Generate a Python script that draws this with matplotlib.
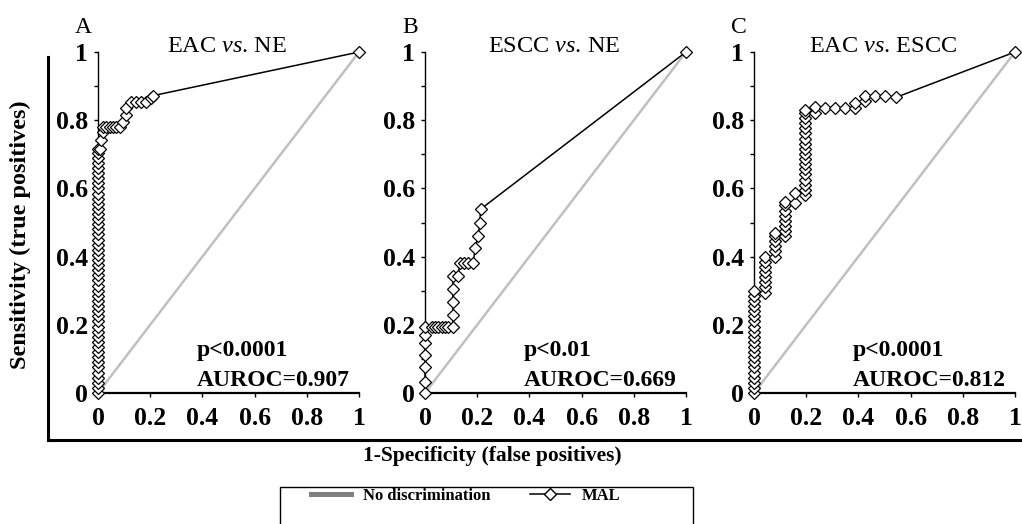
import matplotlib
matplotlib.use("Agg")
import matplotlib.pyplot as plt
from matplotlib.lines import Line2D
from matplotlib.patches import Rectangle

plt.rcParams['font.family'] = ['Liberation Serif', 'DejaVu Serif']
plt.rcParams['mathtext.fontset'] = 'custom'
plt.rcParams['mathtext.rm'] = 'Liberation Serif'
plt.rcParams['mathtext.it'] = 'Liberation Serif:italic'

# ROC points (x = 1-specificity, y = sensitivity)
a_x = [0.0] * 49 + [0.006, 0.013, 0.019, 0.019, 0.032, 0.045, 0.057, 0.070, 0.083,
                    0.096, 0.109, 0.109, 0.128, 0.147, 0.166, 0.185, 0.204, 0.211, 1.0]
a_y = [0.000, 0.015, 0.030, 0.045, 0.060, 0.075, 0.090, 0.105, 0.120, 0.135,
       0.150, 0.165, 0.180, 0.195, 0.210, 0.225, 0.240, 0.255, 0.270, 0.285,
       0.300, 0.315, 0.330, 0.345, 0.360, 0.375, 0.390, 0.405, 0.420, 0.435,
       0.450, 0.465, 0.480, 0.495, 0.510, 0.525, 0.540, 0.555, 0.570, 0.585,
       0.600, 0.615, 0.630, 0.645, 0.660, 0.675, 0.690, 0.705, 0.715] + \
      [0.717, 0.742, 0.766, 0.780, 0.780, 0.780, 0.780, 0.780, 0.780,
       0.796, 0.815, 0.835, 0.854, 0.854, 0.854, 0.854, 0.866, 0.872, 1.0]

b_x = [0.0, 0.0, 0.0, 0.0, 0.0, 0.0, 0.0,
       0.025, 0.038, 0.050, 0.064, 0.077, 0.088, 0.107,
       0.107, 0.107, 0.107, 0.107, 0.126,
       0.134, 0.150, 0.166, 0.185, 0.192, 0.204, 0.210, 0.213, 1.0]
b_y = [0.000, 0.033, 0.077, 0.110, 0.147, 0.170, 0.195,
       0.195, 0.195, 0.195, 0.195, 0.195, 0.195, 0.195,
       0.229, 0.268, 0.304, 0.343, 0.343,
       0.381, 0.381, 0.381, 0.381, 0.425, 0.460, 0.498, 0.539, 1.0]

c_x = [0.0] * 21 + [0.042] * 8 + [0.080] * 6 + [0.119] * 8 + [0.157] * 2 + [0.195] * 18 + \
      [0.234, 0.234, 0.272, 0.310, 0.349, 0.387, 0.387, 0.425, 0.425, 0.464, 0.502, 0.544, 1.0]
c_y = [0.000, 0.015, 0.030, 0.045, 0.060, 0.075, 0.090, 0.105, 0.120, 0.135,
       0.150, 0.165, 0.180, 0.195, 0.210, 0.225, 0.240, 0.255, 0.270, 0.285, 0.300] + \
      [0.292, 0.310, 0.325, 0.340, 0.355, 0.370, 0.385, 0.400] + \
      [0.400, 0.415, 0.430, 0.445, 0.460, 0.470] + \
      [0.460, 0.475, 0.490, 0.505, 0.520, 0.535, 0.550, 0.560] + \
      [0.556, 0.586] + \
      [0.581, 0.596, 0.611, 0.626, 0.641, 0.656, 0.671, 0.686, 0.701, 0.716,
       0.731, 0.746, 0.761, 0.776, 0.791, 0.806, 0.821, 0.830] + \
      [0.820, 0.840, 0.835, 0.835, 0.835, 0.835, 0.850, 0.855, 0.870, 0.870, 0.870, 0.867, 1.0]

tick_vals = [0, 0.2, 0.4, 0.6, 0.8, 1]
tick_labels = ['0', '0.2', '0.4', '0.6', '0.8', '1']

panels = [
    ("A", "EAC $\\it{vs}$. NE", "p<0.0001", "AUROC=0.907", a_x, a_y, 98),
    ("B", "ESCC $\\it{vs}$. NE", "p<0.01", "AUROC=0.669", b_x, b_y, 425),
    ("C", "EAC $\\it{vs}$. ESCC", "p<0.0001", "AUROC=0.812", c_x, c_y, 754),
]

W, H = 1022, 524
fig = plt.figure(figsize=(W / 100, H / 100), dpi=100)

for letter, title, ptext, auroc, xs, ys, left in panels:
    ax = fig.add_axes([left / W, 1 - 393 / H, 261 / W, 341 / H])
    ax.plot([0, 1], [0, 1], color='#c0c0c0', lw=1.8, zorder=1)
    ax.plot(xs, ys, color='black', lw=1.1, marker='D', ms=6, mfc='white',
            mec='black', mew=0.9, clip_on=False, zorder=3)
    ax.set_xlim(0, 1)
    ax.set_ylim(0, 1)
    ax.spines['top'].set_visible(False)
    ax.spines['right'].set_visible(False)
    ax.spines['left'].set_linewidth(1.0)
    ax.spines['bottom'].set_linewidth(1.6)
    ax.set_xticks(tick_vals)
    ax.set_xticklabels(tick_labels, fontweight='bold')
    ax.set_yticks(tick_vals)
    ax.set_yticklabels(tick_labels, fontweight='bold')
    ax.set_yticks([0.1, 0.3, 0.5, 0.7, 0.9], minor=True)
    ax.tick_params(axis='both', which='major', labelsize=18.5, length=3, width=1)
    ax.tick_params(axis='x', pad=7)
    ax.tick_params(axis='y', pad=4)
    ax.tick_params(axis='y', which='minor', length=3, width=1)
    ax.text(0.494, 1.015, title, transform=ax.transAxes, ha='center', va='center', fontsize=17.5)
    ax.text(-0.057, 1.073, letter, transform=ax.transAxes, ha='center', va='center', fontsize=17)
    ax.text(0.38, 0.126, ptext, transform=ax.transAxes, ha='left', va='center',
            fontsize=17, fontweight='bold')
    ax.text(0.38, 0.036, auroc, transform=ax.transAxes, ha='left', va='center',
            fontsize=17, fontweight='bold')

# outer L-shaped frame
fig.add_artist(Line2D([48 / W, 48 / W], [1 - 57 / H, 1 - 440 / H], color='black', lw=2.2,
                      transform=fig.transFigure))
fig.add_artist(Line2D([48 / W, 1.0], [1 - 440 / H, 1 - 440 / H], color='black', lw=2.2,
                      transform=fig.transFigure))

fig.text(20 / W, 1 - 235 / H, "Sensitivity (true positives)", rotation=90,
         ha='center', va='center', fontsize=17.5, fontweight='bold')
fig.text(492 / W, 1 - 456 / H, "1-Specificity (false positives)",
         ha='center', va='center', fontsize=15.5, fontweight='bold')

# legend box, cut off by the lower edge
fig.add_artist(Rectangle((280 / W, -0.05), 413 / W, 0.05 + 1 - 487 / H, fill=False,
                         edgecolor='black', lw=1.0, transform=fig.transFigure))
handles = [Line2D([], [], color='#808080', lw=3.6),
           Line2D([], [], color='black', lw=1.1, marker='D', ms=6, mfc='white', mec='black')]
fig.legend(handles, ["No discrimination", "MAL"], loc='center left',
           bbox_to_anchor=(296 / W, 1 - 496 / H), ncol=2, frameon=False,
           prop={'family': 'Liberation Serif', 'weight': 'bold', 'size': 12},
           handlelength=2.4, handletextpad=0.7, columnspacing=2.4)

fig.savefig("out.png", dpi=100)
